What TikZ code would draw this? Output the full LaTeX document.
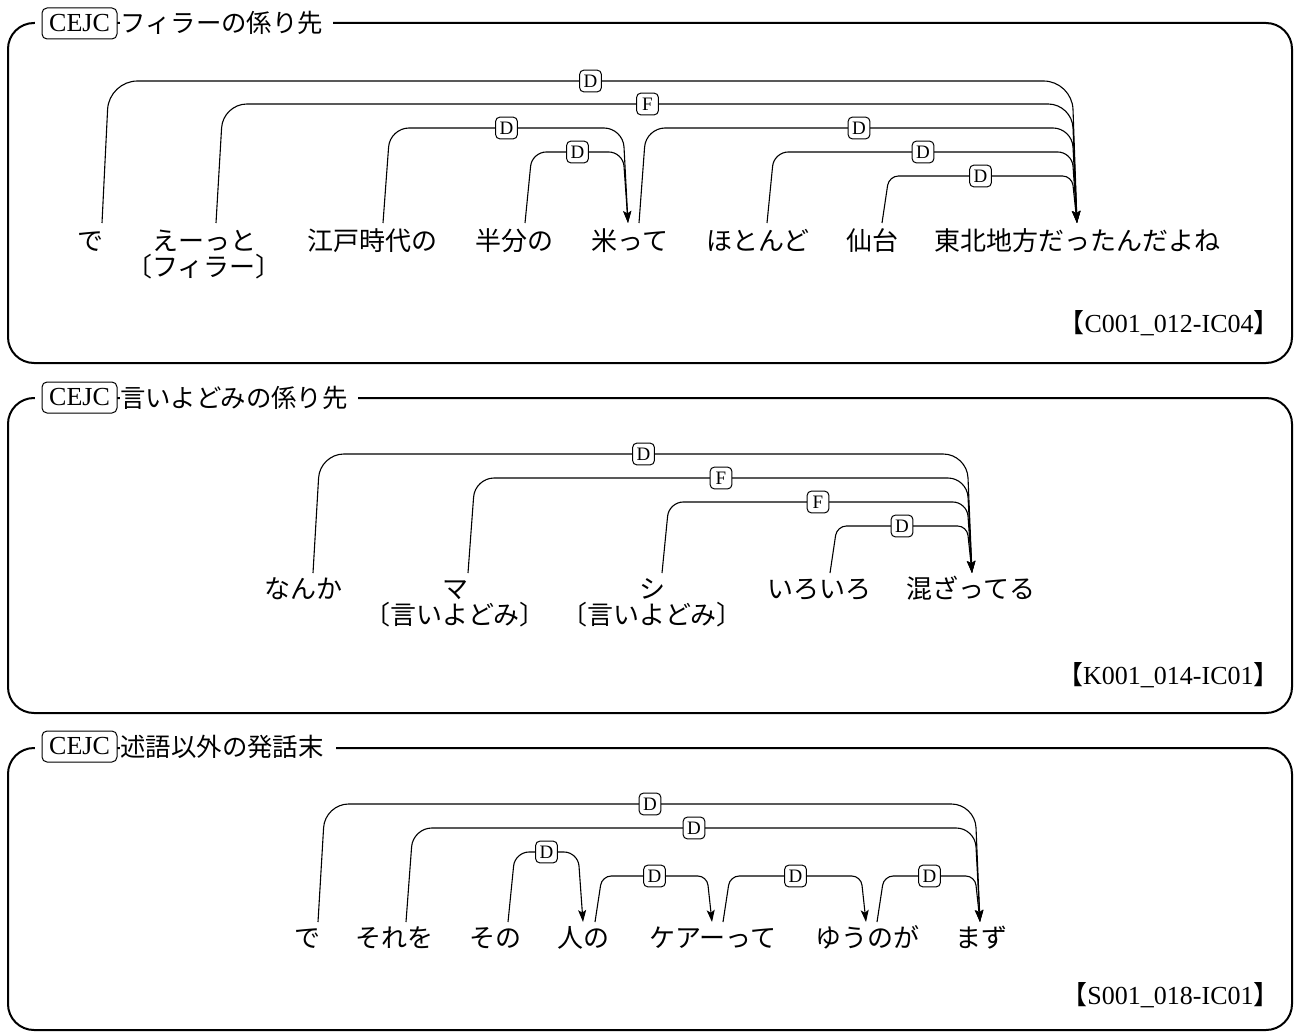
\documentclass[tikz,border=0pt]{standalone}
\usepackage{fontspec}
\setmainfont{Liberation Serif}
\newfontfamily\jpfont{Noto Sans CJK JP}
\usetikzlibrary{calc,arrows.meta}

\newcommand\deparc[7]{%
  \pgfmathsetmacro\deprad{0.1*(#7-(#5))}%
  \coordinate (dS) at ($(#1.center |- 0,#7)+(#2,0)$);%
  \coordinate (dT) at ($(#3.center |- 0,#7)+(#4,0)$);%
  \coordinate (dA) at ($(dS |- 0,#5)+(7,0)$);%
  \coordinate (dB) at ($(dT |- 0,#5)+(-5,0)$);%
  \draw[dep,rounded corners=\deprad pt] (dS) -- (dA) -- (dB) -- (dT);%
  \node[lbl] at ($(dA)!0.5!(dB)$) {#6};%
}

\tikzset{
  frame/.style={draw, line width=1pt, rounded corners=13pt},
  word/.style={font=\jpfont\fontsize{13}{13}\selectfont, inner sep=0pt, anchor=base},
  dep/.style={draw, line width=0.55pt, -{Stealth[length=6pt,width=4pt,inset=1.3pt]}},
  lbl/.style={draw, fill=white, rounded corners=2pt, line width=0.5pt, inner sep=0pt,
    minimum width=10.8pt, minimum height=10.8pt, font=\fontsize{9.5}{9.5}\selectfont},
  cejc/.style={draw, fill=white, rounded corners=2.5pt, line width=0.5pt, inner sep=0pt,
    minimum width=37.5pt, minimum height=15.5pt, font=\fontsize{13}{13}\selectfont},
  ttl/.style={fill=white, inner sep=0pt, anchor=base west, font=\jpfont\fontsize{12.7}{13}\selectfont},
  idtext/.style={anchor=base east, inner sep=0pt, font=\fontsize{13}{13}\selectfont},
}

\begin{document}
\begin{tikzpicture}[x=0.5pt,y=-0.5pt]
\useasboundingbox (0,0) rectangle (1294,1032);

% frames
\draw[frame] (8,23) rectangle (1292,363);
\draw[frame] (8,398) rectangle (1292,713);
\draw[frame] (8,748) rectangle (1292,1030);

% titles
\fill[white] (35,10) rectangle (44,37);
\node[ttl] (t1) at (120,33) {フィラーの係り先\kern5pt};
\node[cejc] (c1) at (79.5,23.5) {CEJC};
\fill[white] (35,384) rectangle (44,411);
\node[ttl] (t2) at (120,407) {言いよどみの係り先\kern5pt};
\node[cejc] (c2) at (79.5,397.5) {CEJC};
\fill[white] (35,733) rectangle (44,760);
\node[ttl] (t3) at (120,756) {述語以外の発話末\kern6pt};
\node[cejc] (c3) at (79.5,746.5) {CEJC};

% IDs
\node[idtext] (id1) at (1280,332) {{\jpfont 【}C001\_012-IC04{\jpfont 】}};
\node[idtext] (id2) at (1280,684) {{\jpfont 【}K001\_014-IC01{\jpfont 】}};
\node[idtext] (id3) at (1280,1004) {{\jpfont 【}S001\_018-IC01{\jpfont 】}};

% panel 1 words
\node[word] (p1w1) at (90,250) {で};
\node[word] (p1w2) at (204,250) {えーっと};
\node[word] (p1s2) at (204,276) {〔フィラー〕};
\node[word] (p1w3) at (372,250) {江戸時代の};
\node[word] (p1w4) at (514,250) {半分の};
\node[word] (p1w5) at (630,250) {米って};
\node[word] (p1w6) at (758,250) {ほとんど};
\node[word] (p1w7) at (872,250) {仙台};
\node[word] (p1w8) at (1077,250) {東北地方だったんだよね};

\deparc{p1w1}{12}{p1w8}{0}{81}{D}{223}
\deparc{p1w2}{12}{p1w8}{0}{104}{F}{223}
\deparc{p1w3}{11}{p1w5}{-2}{128}{D}{223}
\deparc{p1w4}{11}{p1w5}{-2}{152}{D}{223}
\deparc{p1w5}{9}{p1w8}{0}{128}{D}{223}
\deparc{p1w6}{9}{p1w8}{0}{152}{D}{223}
\deparc{p1w7}{10}{p1w8}{0}{176}{D}{223}

% panel 2 words
\node[word] (p2w1) at (303,598) {なんか};
\node[word] (p2w2) at (455,598) {マ};
\node[word] (p2s2) at (455,624) {〔言いよどみ〕};
\node[word] (p2w3) at (652,598) {シ};
\node[word] (p2s3) at (652,624) {〔言いよどみ〕};
\node[word] (p2w4) at (819,598) {いろいろ};
\node[word] (p2w5) at (971,598) {混ざってる};

\deparc{p2w1}{10}{p2w5}{1}{454}{D}{573}
\deparc{p2w2}{13}{p2w5}{1}{478}{F}{573}
\deparc{p2w3}{10}{p2w5}{1}{502}{F}{573}
\deparc{p2w4}{11}{p2w5}{1}{526}{D}{573}

% panel 3 words
\node[word] (p3w1) at (307,947) {で};
\node[word] (p3w2) at (394,947) {それを};
\node[word] (p3w3) at (495,947) {その};
\node[word] (p3w4) at (583,947) {人の};
\node[word] (p3w5) at (713,947) {ケアーって};
\node[word] (p3w6) at (867,947) {ゆうのが};
\node[word] (p3w7) at (981,947) {まず};

\deparc{p3w1}{11}{p3w7}{-1}{804}{D}{922}
\deparc{p3w2}{12}{p3w7}{-1}{828}{D}{922}
\deparc{p3w3}{13}{p3w4}{0}{852}{D}{922}
\deparc{p3w4}{12}{p3w5}{-1}{876}{D}{922}
\deparc{p3w5}{10}{p3w6}{-1}{876}{D}{922}
\deparc{p3w6}{10}{p3w7}{-1}{876}{D}{922}
\end{tikzpicture}
\end{document}
